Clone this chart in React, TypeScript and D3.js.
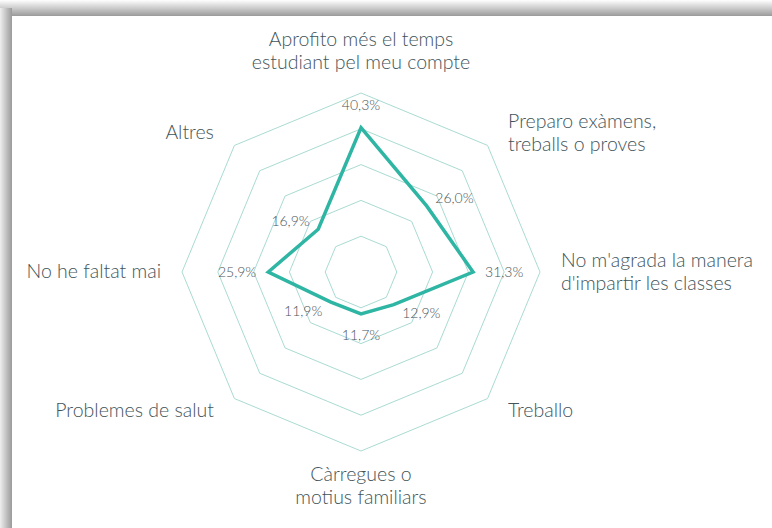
import { useEffect, useRef } from 'react';
import * as d3 from 'd3';

// ── Data (clockwise from top) ───────────────────────────────────────────────
const CATEGORIES: string[][] = [
  ['Aprofito més el temps', 'estudiant pel meu compte'],
  ['Preparo exàmens,', 'treballs o proves'],
  ["No m'agrada la manera", "d'impartir les classes"],
  ['Treballo'],
  ['Càrregues o', 'motius familiars'],
  ['Problemes de salut'],
  ['No he faltat mai'],
  ['Altres'],
];
const VALUES = [40.3, 26.0, 31.3, 12.9, 11.7, 11.9, 25.9, 16.9];
const RING_TICKS = [10, 20, 30, 40, 50];

const W = 772, H = 528;
const CX = 361, CY = 272, R = 179;
const GRID = '#a9dbd2';
const LINE = '#2fb5a3';
const LABEL = '#42545a';
const VALUE = '#4a5559';
const FONT = 'Lato, "Open Sans", sans-serif';

export default function App() {
  const svgRef = useRef<SVGSVGElement>(null);

  useEffect(() => {
    const svg = d3.select(svgRef.current);
    svg.selectAll('*').remove();

    // frame shadow (top + left)
    const defs = svg.append('defs');
    const gTop = defs.append('linearGradient').attr('id', 'shTop')
      .attr('x1', '0').attr('y1', '0').attr('x2', '0').attr('y2', '1');
    gTop.append('stop').attr('offset', '0%').attr('stop-color', '#ffffff');
    gTop.append('stop').attr('offset', '100%').attr('stop-color', '#9a9a9a');
    const gLeft = defs.append('linearGradient').attr('id', 'shLeft')
      .attr('x1', '0').attr('y1', '0').attr('x2', '1').attr('y2', '0');
    gLeft.append('stop').attr('offset', '0%').attr('stop-color', '#eeeeee');
    gLeft.append('stop').attr('offset', '100%').attr('stop-color', '#9a9a9a');

    svg.append('rect').attr('width', W).attr('height', H).attr('fill', '#fff');
    svg.append('rect').attr('x', 0).attr('y', 0).attr('width', W).attr('height', 16).attr('fill', 'url(#shTop)');
    svg.append('rect').attr('x', 0).attr('y', 8).attr('width', 12).attr('height', H).attr('fill', 'url(#shLeft)');

    const n = CATEGORIES.length;
    const angle = d3.scaleLinear().domain([0, n]).range([0, 2 * Math.PI]);
    const r = d3.scaleLinear().domain([0, 50]).range([0, R]);
    const pt = (i: number, v: number): [number, number] => {
      const a = angle(i);
      return [CX + Math.sin(a) * r(v), CY - Math.cos(a) * r(v)];
    };

    const g = svg.append('g');

    // octagon rings
    const ring = d3.line<[number, number]>().x(d => d[0]).y(d => d[1]);
    RING_TICKS.forEach(t => {
      const pts = d3.range(n).map(i => pt(i, t));
      g.append('path')
        .attr('d', ring(pts) + 'Z')
        .attr('fill', 'none').attr('stroke', GRID).attr('stroke-width', 1);
    });

    // data polygon
    const radial = d3.lineRadial<number>()
      .angle((_, i) => angle(i))
      .radius(d => r(d))
      .curve(d3.curveLinearClosed);
    g.append('path')
      .attr('transform', `translate(${CX},${CY})`)
      .attr('d', radial(VALUES))
      .attr('fill', 'none').attr('stroke', LINE).attr('stroke-width', 3.5)
      .attr('stroke-linejoin', 'miter');

    // value labels
    VALUES.forEach((v, i) => {
      const a = angle(i);
      const [x, y] = pt(i, v);
      const dx = Math.sin(a), dy = -Math.cos(a);
      const side = Math.abs(dx) < 0.1 ? 'middle' : dx > 0 ? 'start' : 'end';
      const off = side === 'middle' ? 16 : 12;
      g.append('text')
        .attr('x', x + dx * off)
        .attr('y', y + dy * off)
        .attr('dy', side === 'middle' ? (dy < 0 ? '-0.1em' : '0.75em') : '0.35em')
        .attr('text-anchor', side)
        .style('font-family', FONT).style('font-weight', 300)
        .style('font-size', '14px').style('fill', VALUE)
        .text(v.toFixed(1).replace('.', ',') + '%');
    });

    // category labels
    CATEGORIES.forEach((lines, i) => {
      const a = angle(i);
      const dx = Math.sin(a), dy = -Math.cos(a);
      const [x, y] = pt(i, 50);
      const side = Math.abs(dx) < 0.1 ? 'middle' : dx > 0 ? 'start' : 'end';
      const lh = 23;
      let tx = x, ty = y;
      if (side === 'middle') {
        ty = dy < 0 ? y - 24 - (lines.length - 1) * lh : y + 30;
      } else {
        tx = x + dx * 21;
        ty = y + dy * 4 + 6 - ((lines.length - 1) * lh) / 2;
        if (Math.abs(dy) > 0.1) { tx = x + dx * 29; ty = y + (dy < 0 ? -12 : 12) + 6 - ((lines.length - 1) * lh) / 2; }
      }
      const t = g.append('text')
        .attr('text-anchor', side)
        .style('font-family', FONT).style('font-weight', 300)
        .style('font-size', '19.5px').style('fill', LABEL);
      lines.forEach((l, k) => {
        t.append('tspan').attr('x', tx).attr('y', ty + k * lh).text(l);
      });
    });
  }, []);

  return (
    <div style={{ position: 'fixed', left: 0, top: 0, width: W, height: H }}>
      <svg ref={svgRef} width={W} height={H} style={{ display: 'block' }} />
    </div>
  );
}
